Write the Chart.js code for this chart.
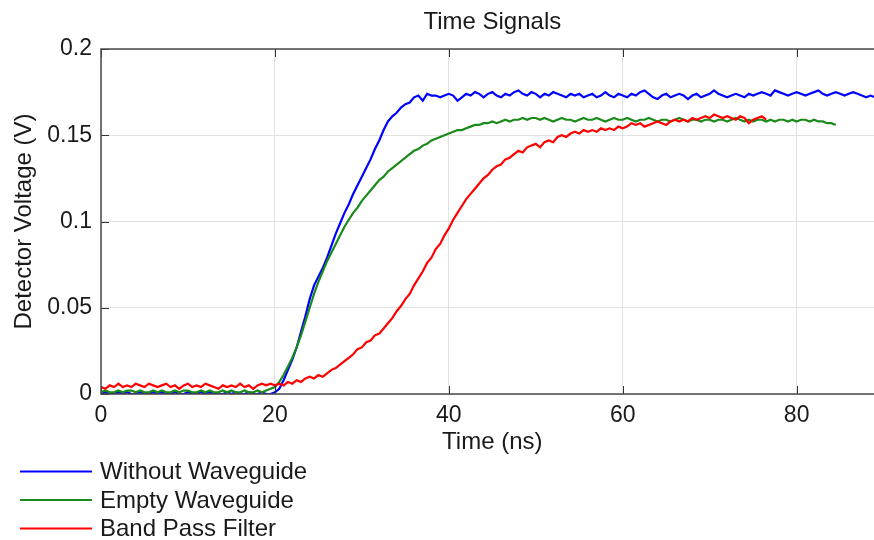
<!DOCTYPE html>
<html>
<head>
<meta charset="utf-8">
<script src="https://cdn.jsdelivr.net/npm/chart.js@4/dist/chart.umd.min.js"></script>
<style>
  html, body { margin: 0; padding: 0; background: #ffffff; overflow: hidden; width: 874px; height: 540px; }
  #wrap { position: absolute; left: 0; top: 0; width: 900px; height: 540px; }
</style>
</head>
<body>
<div id="wrap"><canvas id="c" width="900" height="540"></canvas></div>
<script>
// ---- Data ----
const TITLE = 'Time Signals';
const X_TITLE = 'Time (ns)';
const Y_TITLE = 'Detector Voltage (V)';
const SERIES_NAMES = ['Without Waveguide', 'Empty Waveguide', 'Band Pass Filter'];
const SAMPLE_STEP_NS = 0.5;   // sampling interval of all three traces, first sample at t = 0 ns
const X_TICKS = [0, 20, 40, 60, 80];
const Y_TICKS = [0, 0.05, 0.1, 0.15, 0.2];

// Without Waveguide (t = 0 ... 89 ns)
const withoutWaveguide = [
  0.000,0.001,0.000,0.000,0.001,0.000,0.001,0.000,0.000,0.001,
  0.000,0.000,0.001,0.000,0.001,0.000,0.000,0.001,0.000,0.000,
  0.001,0.000,0.000,0.001,0.000,0.001,0.000,0.000,0.000,0.001,
  0.000,0.001,0.000,0.000,0.001,0.000,0.000,0.001,0.000,0.000,
  0.001,0.003,0.008,0.014,0.020,0.027,0.036,0.045,0.055,0.063,
  0.068,0.073,0.079,0.086,0.093,0.099,0.105,0.110,0.116,0.121,
  0.126,0.131,0.136,0.142,0.147,0.153,0.158,0.161,0.163,0.166,
  0.168,0.169,0.172,0.173,0.170,0.174,0.173,0.173,0.172,0.173,
  0.174,0.173,0.170,0.172,0.174,0.173,0.175,0.174,0.172,0.174,
  0.175,0.173,0.172,0.174,0.173,0.175,0.176,0.174,0.173,0.175,
  0.174,0.172,0.174,0.173,0.175,0.174,0.173,0.172,0.174,0.173,
  0.174,0.172,0.173,0.174,0.172,0.173,0.175,0.173,0.172,0.174,
  0.173,0.172,0.174,0.173,0.175,0.176,0.174,0.172,0.171,0.173,
  0.174,0.172,0.173,0.174,0.173,0.171,0.173,0.174,0.172,0.173,
  0.174,0.176,0.174,0.173,0.172,0.173,0.174,0.173,0.172,0.174,
  0.173,0.174,0.175,0.174,0.173,0.176,0.175,0.174,0.173,0.174,
  0.175,0.174,0.173,0.174,0.175,0.176,0.174,0.173,0.174,0.175,
  0.174,0.173,0.174,0.175,0.174,0.173,0.172,0.173,0.172
];

// Empty Waveguide (t = 0 ... 84.5 ns)
const emptyWaveguide = [
  0.001,0.002,0.001,0.001,0.002,0.001,0.002,0.002,0.001,0.002,
  0.001,0.001,0.002,0.001,0.002,0.001,0.001,0.002,0.001,0.002,
  0.002,0.001,0.001,0.002,0.001,0.002,0.001,0.001,0.002,0.001,
  0.002,0.001,0.001,0.002,0.001,0.001,0.002,0.001,0.002,0.003,
  0.004,0.007,0.011,0.016,0.021,0.027,0.034,0.042,0.050,0.058,
  0.065,0.071,0.077,0.082,0.087,0.092,0.097,0.101,0.105,0.108,
  0.112,0.115,0.118,0.121,0.124,0.126,0.129,0.131,0.133,0.135,
  0.137,0.139,0.141,0.142,0.144,0.145,0.147,0.148,0.149,0.150,
  0.151,0.152,0.153,0.153,0.154,0.155,0.156,0.156,0.157,0.157,
  0.158,0.157,0.158,0.159,0.158,0.159,0.159,0.160,0.159,0.160,
  0.160,0.159,0.160,0.159,0.158,0.159,0.160,0.159,0.159,0.158,
  0.159,0.160,0.159,0.159,0.160,0.159,0.158,0.159,0.160,0.159,
  0.159,0.160,0.159,0.158,0.159,0.159,0.160,0.159,0.158,0.159,
  0.159,0.158,0.159,0.160,0.159,0.158,0.159,0.159,0.158,0.159,
  0.159,0.158,0.159,0.159,0.158,0.159,0.160,0.159,0.158,0.159,
  0.158,0.159,0.159,0.158,0.159,0.158,0.159,0.159,0.158,0.159,
  0.158,0.159,0.159,0.158,0.159,0.158,0.158,0.157,0.157,0.156
];

// Band Pass Filter (t = 0 ... 76.5 ns)
const bandPassFilter = [
  0.004,0.003,0.005,0.004,0.006,0.004,0.005,0.004,0.006,0.005,
  0.004,0.006,0.005,0.004,0.005,0.006,0.004,0.005,0.003,0.005,
  0.006,0.004,0.005,0.004,0.006,0.005,0.004,0.003,0.005,0.004,
  0.005,0.004,0.006,0.004,0.005,0.003,0.005,0.006,0.005,0.006,
  0.005,0.006,0.005,0.007,0.006,0.008,0.007,0.009,0.010,0.009,
  0.011,0.010,0.012,0.014,0.015,0.017,0.019,0.021,0.023,0.026,
  0.027,0.030,0.031,0.034,0.035,0.038,0.041,0.044,0.048,0.051,
  0.055,0.058,0.063,0.067,0.071,0.076,0.079,0.084,0.087,0.092,
  0.096,0.101,0.105,0.109,0.113,0.116,0.119,0.122,0.125,0.127,
  0.130,0.132,0.133,0.136,0.137,0.139,0.141,0.140,0.143,0.144,
  0.145,0.143,0.146,0.147,0.146,0.149,0.150,0.149,0.151,0.152,
  0.151,0.153,0.152,0.153,0.152,0.154,0.153,0.154,0.153,0.155,
  0.154,0.155,0.157,0.156,0.157,0.155,0.156,0.157,0.158,0.157,
  0.156,0.158,0.159,0.158,0.159,0.158,0.160,0.159,0.160,0.161,
  0.160,0.162,0.161,0.160,0.161,0.160,0.159,0.161,0.160,0.157,
  0.159,0.160,0.161,0.159
];

const SERIES_COLORS = ['#0000ff', '#1a8a1a', '#ff0000'];
const FONT = '"Liberation Sans", Arial, Helvetica, sans-serif';

function toPoints(values) {
  return values.map((v, i) => ({ x: i * SAMPLE_STEP_NS, y: v }));
}

const seriesValues = [withoutWaveguide, emptyWaveguide, bandPassFilter];

const decorPlugin = {
  id: 'decor',
  afterDraw(chart) {
    const ctx = chart.ctx;
    const a = chart.chartArea;
    const xs = chart.scales.x, ys = chart.scales.y;
    ctx.save();
    // inward tick marks
    ctx.strokeStyle = '#333333';
    ctx.lineWidth = 1;
    const TL = 8;
    X_TICKS.forEach(v => {
      const px = Math.round(xs.getPixelForValue(v)) + 0.5;
      ctx.beginPath();
      ctx.moveTo(px, a.bottom); ctx.lineTo(px, a.bottom - TL);
      ctx.moveTo(px, a.top); ctx.lineTo(px, a.top + TL);
      ctx.stroke();
    });
    Y_TICKS.forEach(v => {
      const py = Math.round(ys.getPixelForValue(v)) + 0.5;
      ctx.beginPath();
      ctx.moveTo(a.left, py); ctx.lineTo(a.left + TL, py);
      ctx.moveTo(a.right, py); ctx.lineTo(a.right - TL, py);
      ctx.stroke();
    });
    // axes box
    ctx.strokeStyle = '#4a4a4a';
    ctx.lineWidth = 1.5;
    ctx.strokeRect(a.left, a.top, a.right - a.left, a.bottom - a.top);
    // title
    ctx.fillStyle = '#1a1a1a';
    ctx.font = '24px ' + FONT;
    ctx.textAlign = 'center';
    ctx.textBaseline = 'middle';
    ctx.fillText(TITLE, (a.left + a.right) / 2, 22);
    // legend
    ctx.font = '24px ' + FONT;
    ctx.textAlign = 'left';
    const rows = [471.5, 500, 528.5];
    SERIES_NAMES.forEach((name, i) => {
      ctx.strokeStyle = SERIES_COLORS[i];
      ctx.lineWidth = 2;
      ctx.beginPath();
      ctx.moveTo(20, rows[i]); ctx.lineTo(92, rows[i]);
      ctx.stroke();
      ctx.fillStyle = '#1a1a1a';
      ctx.fillText(name, 100, rows[i] + 1);
    });
    ctx.restore();
  }
};

new Chart(document.getElementById('c'), {
  type: 'line',
  data: {
    datasets: SERIES_NAMES.map((name, i) => ({
      label: name,
      data: toPoints(seriesValues[i]),
      borderColor: SERIES_COLORS[i],
      backgroundColor: SERIES_COLORS[i],
      borderWidth: 2.2,
      pointRadius: 0,
      tension: 0,
      fill: false,
      order: 2 - i
    }))
  },
  options: {
    responsive: false,
    animation: false,
    events: [],
    layout: { padding: { top: 49, left: 10, right: 16.4, bottom: 79.2 } },
    plugins: {
      legend: { display: false },
      title: { display: false },
      tooltip: { enabled: false }
    },
    scales: {
      x: {
        type: 'linear',
        min: 0,
        max: 90,
        afterBuildTicks: (s) => { s.ticks = X_TICKS.map(v => ({ value: v })); },
        afterFit: (s) => { s.height = 66.8; },
        ticks: {
          padding: 8,
          color: '#1a1a1a',
          font: { family: FONT, size: 23 },
          callback: (v) => String(v),
          maxRotation: 0
        },
        grid: { color: '#e2e2e2', lineWidth: 1, drawTicks: false },
        border: { display: false },
        title: {
          display: true,
          text: X_TITLE,
          color: '#1a1a1a',
          font: { family: FONT, size: 24 },
          padding: { top: 0, bottom: 4 }
        }
      },
      y: {
        type: 'linear',
        min: 0,
        max: 0.2,
        afterBuildTicks: (s) => { s.ticks = Y_TICKS.map(v => ({ value: v })); },
        afterFit: (s) => { s.width = 91; },
        ticks: {
          padding: 9,
          color: '#1a1a1a',
          font: { family: FONT, size: 23 },
          callback: (v) => String(Math.round(v * 100) / 100)
        },
        grid: { color: '#e2e2e2', lineWidth: 1, drawTicks: false },
        border: { display: false },
        title: {
          display: true,
          text: Y_TITLE,
          color: '#1a1a1a',
          font: { family: FONT, size: 24 },
          padding: { top: 0, bottom: 0 }
        }
      }
    }
  },
  plugins: [decorPlugin]
});
</script>
</body>
</html>
